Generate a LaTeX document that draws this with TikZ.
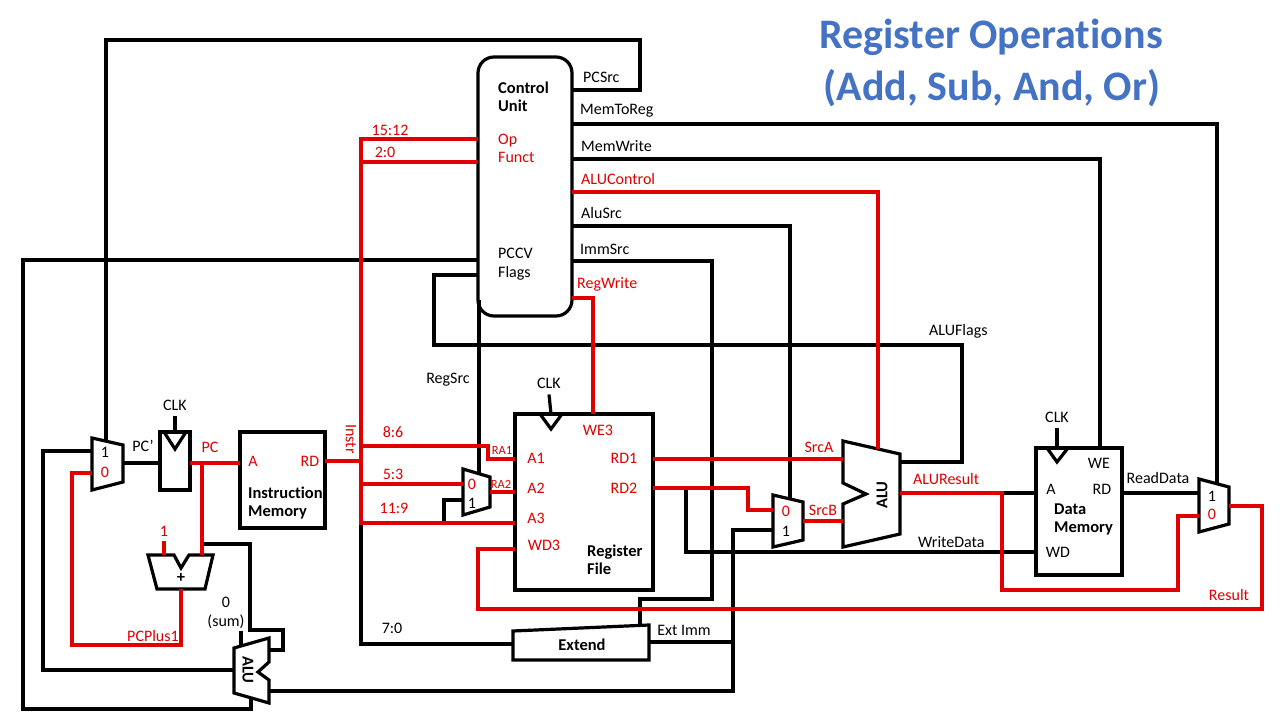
\documentclass[tikz,border=0pt]{standalone}
\usepackage{fontspec}
\setmainfont{Carlito}[Ligatures=NoCommon]
\usetikzlibrary{positioning}

\definecolor{sigred}{RGB}{224,0,0}
\definecolor{ttlblue}{RGB}{68,114,196}

\tikzset{
  wire/.style={line width=3.2pt},
  rwire/.style={line width=3.2pt, draw=sigred},
  blk/.style={draw, line width=3.2pt, inner sep=0pt, outer sep=0pt},
  lbl/.style={inner sep=0pt, font=\fontsize{16}{18.5}\selectfont},
  rlbl/.style={lbl, text=sigred},
  bold/.style={inner sep=0pt, font=\fontsize{16.5}{18.5}\selectfont\bfseries},
  small/.style={inner sep=0pt, text=sigred, font=\fontsize{12.5}{14}\selectfont},
  ttl/.style={inner sep=0pt, text=ttlblue, font=\fontsize{42}{50}\selectfont\bfseries},
}

\begin{document}
\begin{tikzpicture}[x=1pt,y=-1pt]

  \fill[white] (0,0) rectangle (1280,720);
  \useasboundingbox (0,0) rectangle (1280,720);

  % title
  \node[ttl] (title1) at (991,37) {Register Operations};
  \node[ttl] (title2) at (992,88) {(Add, Sub, And, Or)};

  % blocks
  \node[blk, minimum width=30pt, minimum height=58pt] (pcreg) at (175,461) {};
  \node[blk, minimum width=85pt, minimum height=96pt] (imem) at (282.5,480) {};
  \node[blk, rounded corners=16pt, minimum width=94pt, minimum height=259pt] (cu) at (525,186.5) {};
  \node[blk, minimum width=138pt, minimum height=176pt] (rf) at (584,502) {};
  \node[blk, minimum width=86pt, minimum height=127pt] (dmem) at (1079,511.5) {};

  % clocks
  \draw[wire] (164,432) -- (175,449) -- (186,432);
  \draw[wire] (540,414) -- (551,429) -- (562,414);
  \draw[wire] (1047,448) -- (1057,462) -- (1068,448);
  \node[lbl] (clkpc) at (175,405) {CLK};
  \node[lbl] (clkrf) at (549,383) {CLK};
  \node[lbl] (clkdm) at (1057,417) {CLK};
  \draw[wire] ([yshift=-6pt]clkpc.south) -- (pcreg.north);
  \draw[wire] ([yshift=-6pt]clkrf.south) -- (rf.north -| 551,0);
  \draw[wire] ([yshift=-6pt]clkdm.south) -- (dmem.north -| 1057,0);

  % muxes, adder, alus, extend
  \draw[wire] (92,438) -- (123,445) -- (123,482) -- (92,490) -- cycle;
  \draw[wire] (463,469) -- (490,477) -- (490,507) -- (463,515) -- cycle;
  \draw[wire] (773,495) -- (803,502) -- (803,540) -- (773,547) -- cycle;
  \draw[wire] (1199,479) -- (1229,487) -- (1229,524) -- (1199,532) -- cycle;
  \draw[wire] (148,555) -- (174,555) -- (181,568) -- (189,555) -- (213,555) -- (205,589) -- (157,589) -- cycle;
  \draw[wire] (234,648) -- (269,638) -- (269,662) -- (258,672) -- (269,680) -- (269,703) -- (234,693) -- cycle;
  \draw[wire] (843,441) -- (900,454) -- (900,534) -- (843,547) -- (843,504) -- (866,494) -- (843,483) -- cycle;
  \draw[wire] (513,631) -- (649,625) -- (649,660) -- (513,660) -- cycle;

  % pins
  \coordinate (pcmsel) at (106,441);
  \coordinate (pcmin1) at (92,451);
  \coordinate (pcmin0) at (92,473);
  \coordinate (pcmout) at (123,463);
  \coordinate (addin1) at (164,555);
  \coordinate (addin2) at (202,555);
  \coordinate (addout) at (181,589);
  \coordinate (bctl) at (241,646);
  \coordinate (bina) at (269,650);
  \coordinate (binb) at (269,691);
  \coordinate (bout) at (234,670);
  \coordinate (bflag) at (251,698);
  \coordinate (rsel) at (479,474);
  \coordinate (rs0) at (463,484);
  \coordinate (rs1) at (463,500);
  \coordinate (rsout) at (490,492);
  \coordinate (sbsel) at (790,499);
  \coordinate (sb0) at (773,510);
  \coordinate (sb1) at (773,530);
  \coordinate (sbout) at (803,521);
  \coordinate (srca) at (843,459);
  \coordinate (srcb) at (843,521);
  \coordinate (aluctl) at (878,449);
  \coordinate (aluflag) at (900,462);
  \coordinate (aluout) at (900,493);
  \coordinate (rmsel) at (1217,484);
  \coordinate (rm1) at (1199,493);
  \coordinate (rm0) at (1199,516);
  \coordinate (rmout) at (1229,506);
  \coordinate (extsel) at (640,625);
  \coordinate (exin) at (513,644);
  \coordinate (exout) at (649,642);

  % black wires
  \draw[wire] (cu.east |- 0,90) -| (640,40) -| (pcmsel);
  \draw[wire] (cu.east |- 0,124) -| (rmsel);
  \draw[wire] (cu.east |- 0,159) -| (dmem.north -| 1100,0);
  \draw[wire] (cu.east |- 0,226) -| (sbsel);
  \draw[wire] (cu.east |- 0,261) -| (712,599) -| (extsel);
  \draw[wire] (cu.west |- 0,275) -| (434,345) -| (962,462) -- (aluflag);
  \draw[wire] (cu.west |- 0,260) -| (23,709) -| (bflag);
  \draw[wire] (479,300) -- (rsel);
  \draw[wire] (444,523) |- (rs1);
  \draw[wire] (361,523) |- (exin);
  \draw[wire] (686,488) |- (dmem.west |- 0,552);
  \draw[wire] (1002,493) -- (dmem.west |- 0,493);
  \draw[wire] (dmem.east |- 0,493) -- (rm1);
  \draw[wire] (exout) -- (733,642);
  \draw[wire] (sb1) -- (733,530) -- (733,691) -- (binb);
  \draw[wire] (pcmout) -- (pcreg.west |- pcmout);
  \draw[wire] (202,544) -| (250,630) -| (283,650) -- (bina);
  \draw[wire] (241,631) -- (bctl);
  \draw[wire] (bout) -| (43,451) -- (pcmin1);

  % red wires
  \draw[rwire] (cu.east |- 0,192) -| (aluctl);
  \draw[rwire] (cu.east |- 0,298) -| (rf.north -| 593,0);
  \draw[rwire] (imem.east |- 0,461) -- (361,461);
  \draw[rwire] (cu.west |- 0,139) -| (361,523) -- (rf.west |- 0,523);
  \draw[rwire] (cu.west |- 0,162) -- (361,162);
  \draw[rwire] (361,446) -| (488,459) -- (rf.west |- 0,459);
  \draw[rwire] (361,484) -- (rs0);
  \draw[rwire] (rsout) -- (rf.west |- 0,492);
  \draw[rwire] (rf.west |- 0,549) -| (478,609) -| (1262,506) -- (rmout);
  \draw[rwire] (rf.east |- 0,459) -- (srca);
  \draw[rwire] (rf.east |- 0,488) -| (748,510) -- (sb0);
  \draw[rwire] (sbout) -- (srcb);
  \draw[rwire] (aluout) -- (1002,493) |- (1178,590) |- (rm0);
  \draw[rwire] (pcreg.east |- 0,463) -- (imem.west |- 0,463);
  \draw[rwire] (202,463) -- (addin2);
  \draw[rwire] (addout) |- (72,645) |- (pcmin0);

  % labels, fetch side
  \node[lbl] (m1a) at (105,452) {1};
  \node[rlbl] (m1b) at (105,472) {0};
  \node[lbl] (pcpl) at (143,446) {PC’};
  \node[rlbl] (pcl) at (210,447) {PC};
  \node[rlbl] (ima) at (253,461) {A};
  \node[rlbl] (imrd) at (310,461) {RD};
  \node[bold, anchor=west, align=left] (imtxt) at (248,503) {Instruction\\Memory};
  \node[rlbl, rotate=-90] (instrl) at (351,439) {Instr};
  \node[rlbl] (one) at (164,531) {1};
  \draw[rwire] ([yshift=-5pt]one.south) -- (addin1);
  \node[bold] (plus) at (181,578) {+};
  \node[rlbl] (pcplus) at (153,636) {PCPlus1};
  \node[lbl] (zero) at (226,602) {0};
  \node[lbl] (sum) at (226,622) {(sum)};
  \node[bold, rotate=-90] (alu2txt) at (248,670) {ALU};

  % labels, control unit
  \node[bold, anchor=west, align=left] (cutxt) at (498,97) {Control\\Unit};
  \node[rlbl, anchor=west, align=left] (opf) at (498,148.5) {Op\\Funct};
  \node[lbl, anchor=west, align=left] (pccv) at (498,264) {PCCV\\Flags};
  \node[lbl, anchor=west] (pcsrc) at (583,77) {PCSrc};
  \node[lbl, anchor=west] (m2r) at (580,111) {MemToReg};
  \node[lbl, anchor=west] (mw) at (581,146) {MemWrite};
  \node[rlbl, anchor=west] (aluc) at (581,179) {ALUControl};
  \node[lbl, anchor=west] (alus) at (581,213) {AluSrc};
  \node[lbl, anchor=west] (imms) at (580,249) {ImmSrc};
  \node[rlbl, anchor=west] (regw) at (577,284) {RegWrite};
  \node[lbl, anchor=west] (aluf) at (929,331) {ALUFlags};

  % labels, decode
  \node[rlbl] (b1512) at (390,130) {15:12};
  \node[rlbl] (b20) at (385,152) {2:0};
  \node[lbl] (regsrc) at (448,380) {RegSrc};
  \node[rlbl] (b86) at (393,432) {8:6};
  \node[rlbl] (b53) at (393,474) {5:3};
  \node[rlbl] (b119) at (394,508) {11:9};
  \node[lbl] (b70) at (392,628) {7:0};
  \node[small] (ra1) at (502,450) {RA1};
  \node[small] (ra2) at (501,484) {RA2};
  \node[rlbl] (m2a) at (472,484) {0};
  \node[lbl] (m2b) at (472,503) {1};
  \node[rlbl] (we3) at (598,430) {WE3};
  \node[rlbl] (a1) at (536,458) {A1};
  \node[rlbl] (a2) at (536,488) {A2};
  \node[rlbl] (a3) at (536,518) {A3};
  \node[rlbl] (wd3) at (544,545) {WD3};
  \node[rlbl] (rd1) at (624,458) {RD1};
  \node[rlbl] (rd2) at (624,488) {RD2};
  \node[bold, anchor=west, align=left] (rftxt) at (587,560) {Register\\File};
  \node[bold] (exttxt) at (582,645) {Extend};
  \node[lbl] (extimm) at (684,630) {Ext Imm};

  % labels, execute and memory
  \node[rlbl] (srcal) at (819,447) {SrcA};
  \node[rlbl] (srcbl) at (823,510) {SrcB};
  \node[rlbl] (m3a) at (786,511) {0};
  \node[lbl] (m3b) at (786,531) {1};
  \node[bold, rotate=90] (alutxt) at (882,495) {ALU};
  \node[rlbl, anchor=west] (alur) at (913,479) {ALUResult};
  \node[lbl, anchor=west] (wdata) at (918,542) {WriteData};
  \node[lbl] (we) at (1099,463) {WE};
  \node[lbl] (dma) at (1051,489) {A};
  \node[lbl] (dmrd) at (1102,489) {RD};
  \node[lbl] (dmwd) at (1058,552) {WD};
  \node[bold, anchor=west, align=left] (dmtxt) at (1054,519.5) {Data\\Memory};
  \node[lbl] (rdata) at (1158,478) {ReadData};
  \node[lbl] (m4a) at (1212,496) {1};
  \node[rlbl] (m4b) at (1212,514) {0};
  \node[rlbl] (result) at (1229,595) {Result};

\end{tikzpicture}
\end{document}
